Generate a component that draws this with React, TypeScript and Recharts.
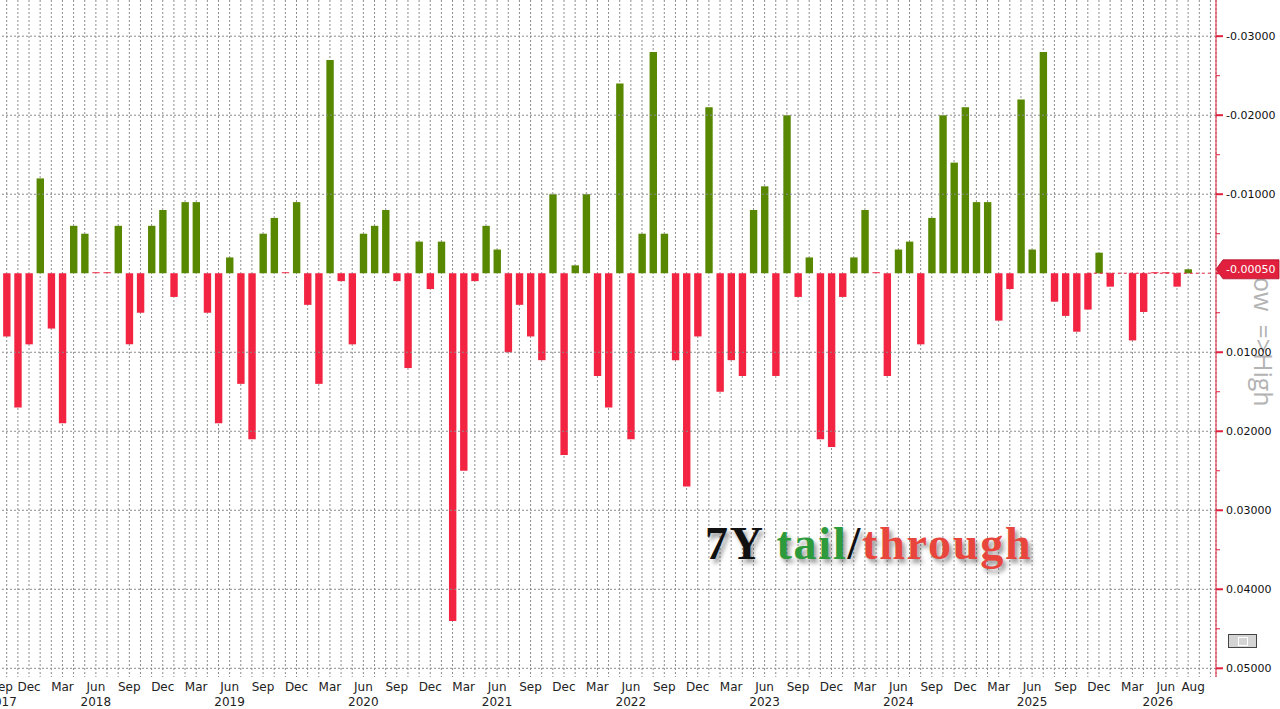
import { BarChart, Bar, XAxis, YAxis, CartesianGrid, ReferenceLine, Cell } from 'recharts'

// 7Y auction tail (<0, green, drawn upward on the inverted axis) / through (>0, red)
// one value per month, Sep 2017 .. Oct 2026
const values2017 = [null, 0.008, 0.017, 0.009] // Sep..Dec
const values2018 = [-0.012, 0.007, 0.019, -0.006, -0.005, 0, 0, -0.006, 0.009, 0.005, -0.006, -0.008]
const values2019 = [0.003, -0.009, -0.009, 0.005, 0.019, -0.002, 0.014, 0.021, -0.005, -0.007, 0, -0.009]
const values2020 = [0.004, 0.014, -0.027, 0.001, 0.009, -0.005, -0.006, -0.008, 0.001, 0.012, -0.004, 0.002]
const values2021 = [-0.004, 0.044, 0.025, 0.001, -0.006, -0.003, 0.01, 0.004, 0.008, 0.011, -0.01, 0.023]
const values2022 = [-0.001, -0.01, 0.013, 0.017, -0.024, 0.021, -0.005, -0.028, -0.005, 0.011, 0.027, 0.008]
const values2023 = [-0.021, 0.015, 0.011, 0.013, -0.008, -0.011, 0.013, -0.02, 0.003, -0.002, 0.021, 0.022]
const values2024 = [0.003, -0.002, -0.008, 0, 0.013, -0.003, -0.004, 0.009, -0.007, -0.02, -0.014, -0.021]
const values2025 = [-0.009, -0.009, 0.006, 0.002, -0.022, -0.003, -0.028, 0.0036, 0.0054, 0.0074, 0.0046, -0.0026]
const values2026 = [0.0017, null, 0.0085, 0.0049, 0, 0, 0.0017, -0.0005, null, null] // Jan..Oct

const lastValue = -0.0005

const yMajor = [-0.03, -0.02, -0.01, 0, 0.01, 0.02, 0.03, 0.04, 0.05]
const yMinor = [-0.025, -0.015, -0.005, 0.005, 0.015, 0.025, 0.035, 0.045]
const yGrid = [-0.03, -0.02, -0.01, 0.01, 0.02, 0.03, 0.04, 0.05]

const MONTHS = ['Jan', 'Feb', 'Mar', 'Apr', 'May', 'Jun', 'Jul', 'Aug', 'Sep', 'Oct', 'Nov', 'Dec']
const labelMonths = ['Mar', 'Jun', 'Sep', 'Dec']
const lastLabel = '2026-08'

const GREEN = '#578800'
const RED = '#f22442'
const AXIS_RED = '#e0203c'
const GRID = '#8c8c8c'

const tails = [
  ...values2017, ...values2018, ...values2019, ...values2020, ...values2021,
  ...values2022, ...values2023, ...values2024, ...values2025, ...values2026,
]

const categories: { key: string; month: string; year: number }[] = []
for (let i = 0; i < tails.length; i++) {
  const m = (8 + i) % 12
  const y = 2017 + Math.floor((8 + i) / 12)
  categories.push({ key: `${y}-${String(m + 1).padStart(2, '0')}`, month: MONTHS[m], year: y })
}

const data = categories.map((c, i) => ({ key: c.key, v: tails[i] }))

function MonthTick(props: any) {
  const { x, y, payload } = props
  const i = categories.findIndex((c) => c.key === payload.value)
  if (i < 0) return null
  const c = categories[i]
  let month = ''
  if (labelMonths.includes(c.month) && c.key <= '2026-06') month = c.month
  if (c.key === lastLabel) month = c.month
  const year = c.month === 'Jun' || i === 0 ? String(c.year) : ''
  // first / last labels sit a little inside the edges, like the terminal does
  let dx = 0
  if (i === 0) dx = 6
  if (c.key === lastLabel) dx = 5
  const ydx = c.key === '2026-06' ? -8 : dx
  return (
    <g>
      {month && (
        <text x={x + dx} y={y + 14} textAnchor="middle" fontSize={12} fill="#222" fontFamily='"DejaVu Sans", sans-serif'>
          {month}
        </text>
      )}
      {year && (
        <text x={x + ydx} y={y + 29} textAnchor="middle" fontSize={12} fill="#222" fontFamily='"DejaVu Sans", sans-serif'>
          {year}
        </text>
      )}
    </g>
  )
}

function ValueTick(props: any) {
  const { x, y, payload } = props
  const v = payload.value
  const major = yMajor.includes(v)
  return (
    <g>
      <line x1={x} x2={x + (major ? 7 : 4)} y1={y} y2={y} stroke={AXIS_RED} strokeWidth={major ? 2 : 1} />
      {major && v !== 0 && (
        <text x={x + 10} y={y} dy={4} fontSize={11} fill="#111" fontFamily='"DejaVu Sans", sans-serif'>
          {v.toFixed(5)}
        </text>
      )}
    </g>
  )
}

function LastTag(props: any) {
  const { viewBox } = props
  if (!viewBox) return null
  const x = viewBox.x + viewBox.width
  const y = viewBox.y
  return (
    <g>
      <polygon
        points={`${x},${y} ${x + 7},${y - 9.5} ${x + 63},${y - 9.5} ${x + 63},${y + 9.5} ${x + 7},${y + 9.5}`}
        fill={AXIS_RED}
        stroke="#b01028"
        strokeWidth={0.8}
      />
      <text x={x + 10} y={y} dy={4} fontSize={11} fill="#fff" fontFamily='"DejaVu Sans", sans-serif'>
        {lastValue.toFixed(5)}
      </text>
    </g>
  )
}

export default function App() {
  return (
    <div
      style={{
        position: 'absolute',
        left: 0,
        top: 0,
        width: 1280,
        height: 709,
        background: '#fff',
        overflow: 'hidden',
      }}
    >
      <div
        style={{
          position: 'absolute',
          left: 1276,
          top: 264,
          transform: 'rotate(90deg)',
          transformOrigin: 'left top',
          fontSize: 25,
          lineHeight: '25px',
          color: '#b3b3b3',
          fontFamily: '"Open Sans", sans-serif',
          whiteSpace: 'pre',
        }}
      >
        {'Low  =>High'}
      </div>
      <div style={{ position: 'absolute', left: 0, top: 0 }}>
        <BarChart width={1280} height={709} data={data} margin={{ top: 0, right: 0, bottom: 0, left: -10 }} barCategoryGap={0}>
          <CartesianGrid horizontal={false} stroke={GRID} strokeDasharray="2 2" />
          {yGrid.map((v) => (
            <ReferenceLine key={v} y={v} stroke={GRID} strokeDasharray="2 2" />
          ))}
          <XAxis
            dataKey="key"
            interval={0}
            height={32}
            axisLine={false}
            tickLine={false}
            tickSize={0}
            tickMargin={0}
            tick={<MonthTick />}
          />
          <YAxis
            orientation="right"
            width={64}
            type="number"
            reversed
            allowDataOverflow
            domain={[-0.03458, 0.0511]}
            ticks={[...yMajor, ...yMinor].sort((a, b) => a - b)}
            interval={0}
            axisLine={{ stroke: AXIS_RED, strokeWidth: 1 }}
            tickLine={false}
            tickSize={0}
            tickMargin={0}
            tick={<ValueTick />}
          />
          <ReferenceLine
            segment={[
              { x: '2025-11', y: 0 },
              { x: '2026-10', y: 0 },
            ]}
            stroke={AXIS_RED}
            strokeDasharray="3 3"
          />
          <Bar
            dataKey="v"
            barSize={7.4}
            isAnimationActive={false}
            minPointSize={(value: any) => (value === 0 ? 1 : 0)}
          >
            {data.map((d, i) => (
              <Cell key={i} fill={d.v != null && d.v < 0 ? GREEN : RED} />
            ))}
          </Bar>
          <ReferenceLine y={lastValue} stroke="none" label={<LastTag />} />
        </BarChart>
      </div>
      <div
        style={{
          position: 'absolute',
          left: 705,
          top: 521,
          fontFamily: '"Liberation Serif", "Times New Roman", serif',
          fontWeight: 'bold',
          fontSize: 46,
          lineHeight: '46px',
          letterSpacing: 1.8,
          whiteSpace: 'nowrap',
          textShadow: '3px 4px 4px rgba(60,60,60,0.5)',
        }}
      >
        <span style={{ color: '#111' }}>7Y </span>
        <span style={{ color: '#2d9a3c' }}>tail</span>
        <span style={{ color: '#111' }}>/</span>
        <span style={{ color: '#e8453c' }}>through</span>
      </div>
      <div
        style={{
          position: 'absolute',
          left: 1228,
          top: 634,
          width: 27,
          height: 12,
          border: '1px solid #444',
          background: '#d4d4d4',
        }}
      >
        <div
          style={{
            position: 'absolute',
            left: 9,
            top: 2,
            width: 8,
            height: 7,
            border: '1px solid #fff',
          }}
        />
      </div>
    </div>
  )
}
